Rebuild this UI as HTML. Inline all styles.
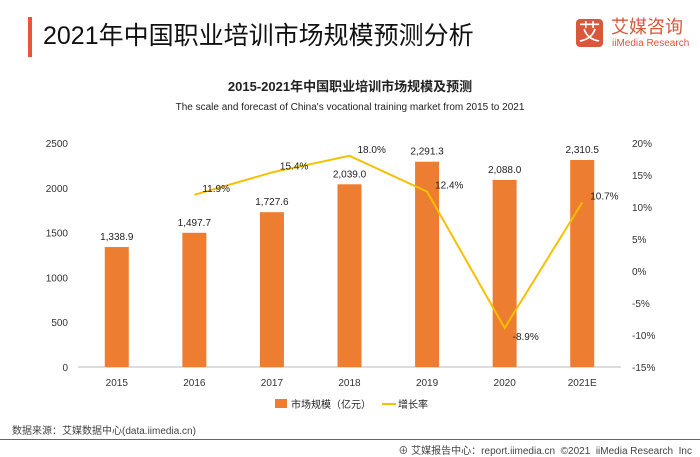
<!DOCTYPE html>
<html><head><meta charset="utf-8"><style>
body{margin:0;width:700px;height:455px;background:#fff;font-family:"Liberation Sans","Noto Sans CJK SC",sans-serif;position:relative;overflow:hidden;color:#222}
.a{position:absolute;white-space:nowrap}
</style></head><body>
<div class="a" style="left:28px;top:17px;width:4px;height:40px;background:#e8553a"></div>
<div class="a" style="left:43px;top:18px;font-size:25px;line-height:36px;color:#111">2021年中国职业培训市场规模预测分析</div>
<div class="a" style="left:576px;top:19px;width:27px;height:28px;background:#d9573b;border-radius:4px;color:#fff;font-size:22px;line-height:28px;text-align:center">艾</div>
<div class="a" style="left:611px;top:16px;font-size:18px;line-height:22px;color:#d9573b">艾媒咨询</div>
<div class="a" style="left:612px;top:38px;font-size:10px;line-height:12px;color:#d9573b">iiMedia Research</div>
<div class="a" style="left:0;width:700px;text-align:center;top:78px;font-size:13px;font-weight:bold;line-height:18px">2015-2021年中国职业培训市场规模及预测</div>
<div class="a" style="left:0;width:700px;text-align:center;top:101px;font-size:10px;line-height:14px">The scale and forecast of China's vocational training market from 2015 to 2021</div>
<svg class="a" style="left:0;top:0" width="700" height="455" id="chart"></svg>
<div class="a" style="left:12px;top:422px;font-size:10px;color:#444">数据来源：艾媒数据中心(data.iimedia.cn)</div>
<div class="a" style="left:0;top:439px;width:700px;height:1px;background:#666"></div>
<div class="a" style="right:8px;top:442px;font-size:10px;color:#444">⊕ 艾媒报告中心：report.iimedia.cn &nbsp;©2021 &nbsp;iiMedia Research &nbsp;Inc</div>
<script>
const categories=["2015","2016","2017","2018","2019","2020","2021E"];
const sizes=[1338.9,1497.7,1727.6,2039.0,2291.3,2088.0,2310.5];
const sizeLabels=["1,338.9","1,497.7","1,727.6","2,039.0","2,291.3","2,088.0","2,310.5"];
const growth=[null,11.9,15.4,18.0,12.4,-8.9,10.7];
const leftTicks=[0,500,1000,1500,2000,2500];
const rightTicks=[-15,-10,-5,0,5,10,15,20];
const svg=document.getElementById('chart');const NS='http://www.w3.org/2000/svg';
const X0=78,X1=621,Y0=367,Y1=143;
const bw=(X1-X0)/categories.length;
const xc=i=>X0+bw*(i+0.5);
const yL=v=>Y0-(v/2500)*(Y0-Y1);
const yR=v=>Y0-((v+15)/35)*(Y0-Y1);
function mk(t,a,txt){const e=document.createElementNS(NS,t);for(const k in a)e.setAttribute(k,a[k]);if(txt!=null)e.textContent=txt;svg.appendChild(e);return e;}
let e=mk('line',{x1:X0,x2:X1,y1:Y0,y2:Y0,stroke:'#bbb'});


leftTicks.forEach(v=>{const t=mk('text',{x:68,y:yL(v)+4,'text-anchor':'end','font-size':10,fill:'#333'},String(v));

});
rightTicks.forEach(v=>{const t=mk('text',{x:632,y:yR(v)+4,'font-size':10,fill:'#333'},v+'%');

});
categories.forEach((c,i)=>{
const h=Y0-yL(sizes[i]);
const r=mk('rect',{x:xc(i)-12,y:yL(sizes[i]),width:24,height:h,fill:'#ed7d31'});


const l=mk('text',{x:xc(i),y:yL(sizes[i])-7,'text-anchor':'middle','font-size':10,fill:'#222'},sizeLabels[i]);


const x=mk('text',{x:xc(i),y:386,'text-anchor':'middle','font-size':10,fill:'#333'},c);

});
let pts=[];growth.forEach((g,i)=>{if(g!=null)pts.push(xc(i)+','+yR(g));});
const pl=mk('polyline',{points:pts.join(' '),fill:'none',stroke:'#f5c000','stroke-width':2});


growth.forEach((g,i)=>{if(g==null)return;
const t=mk('text',{x:xc(i)+8,y:yR(g)+(g<0?12:-3),'font-size':10,fill:'#222'},g.toFixed(1)+'%');

});
const lg1=mk('rect',{x:275,y:399,width:12,height:9,fill:'#ed7d31'});


const lt1=mk('text',{x:291,y:408,'font-size':10,fill:'#222'},'市场规模（亿元）');


const lg2=mk('line',{x1:382,x2:396,y1:404,y2:404,stroke:'#f5c000','stroke-width':2});


const lt2=mk('text',{x:398,y:408,'font-size':10,fill:'#222'},'增长率');


</script>
</body></html>
